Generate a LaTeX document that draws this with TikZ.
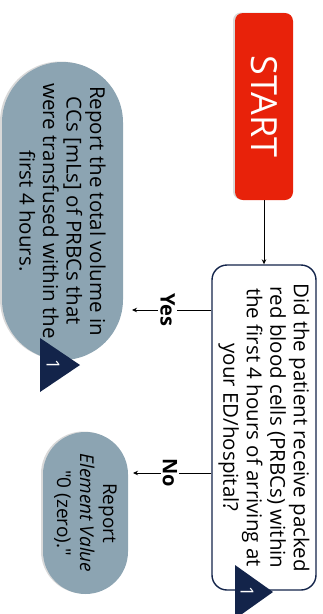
\documentclass[tikz,border=0pt]{standalone}
\usepackage{fontspec}
\setmainfont{Open Sans}
\usetikzlibrary{shadows,arrows.meta}
\definecolor{startred}{HTML}{E8220A}
\definecolor{navy}{HTML}{13244A}
\definecolor{slate}{HTML}{8CA4B2}
\begin{document}
\begin{tikzpicture}[x=1pt,y=-1pt,
  box/.style={rotate=-90, inner sep=0pt, align=center, font=\fontsize{20.5}{23.5}\selectfont},
  shad/.style={drop shadow={opacity=0.25, shadow xshift=-2pt, shadow yshift=0.5pt, fill=black!60}},
  startbox/.style={box, fill=startred, rounded corners=8pt, minimum width=187pt, minimum height=58pt, text=white, font=\fontsize{36}{40}\selectfont, shad},
  decbox/.style={box, draw=navy, line width=1.4pt, fill=white, rounded corners=15pt, minimum width=325pt, minimum height=104pt},
  endbox/.style={box, fill=slate, shad},
  lab/.style={rotate=-90, fill=white, inner sep=2pt, font=\fontsize{20}{22}\selectfont\bfseries},
  conn/.style={draw=black, line width=0.8pt, -{Stealth[length=5pt,width=4.5pt]}},
  tri/.style={fill=navy},
  trinum/.style={rotate=-90, text=white, inner sep=0pt, font=\fontsize{18}{20}\selectfont}
]
\useasboundingbox (0,0) rectangle (323,614);

\node[startbox] (start) at (264,106.5) {START};

\node[decbox] (dec) at (264,427.5) {Did the patient receive packed\\red blood cells (PRBCs) within\\the first 4 hours of arriving at\\your ED/hospital?};

\node[endbox, rounded corners=60.5pt, minimum width=298pt, minimum height=121pt] (yes) at (62.5,211)
  {Report the total volume in\\CCs [mLs] of PRBCs that\\were transfused within the\\first 4 hours.};

\node[endbox, rounded corners=42.5pt, minimum width=162pt, minimum height=85pt, font=\fontsize{19}{23}\selectfont] (no) at (85.5,513)
  {Report\\\textit{Element Value}\\\textquotedbl 0 (zero).\textquotedbl};

\coordinate (yesend) at (132,310);
\coordinate (noend) at (133,473);

\draw[conn] (start.east) -- (dec.west);
\draw[conn] (dec.south |- yesend) -- node[lab, pos=0.55] (yeslab) {Yes} (yesend);
\draw[conn] (dec.south |- noend) -- node[lab, pos=0.53] (nolab) {No} (noend);

\fill[tri] (40,338) -- (40,392) -- (80,365) -- cycle;
\node[trinum] (t1) at (53,365) {1};
\fill[tri] (235,565) -- (235,619) -- (273,592) -- cycle;
\node[trinum] (t2) at (247,592) {1};
\end{tikzpicture}
\end{document}
